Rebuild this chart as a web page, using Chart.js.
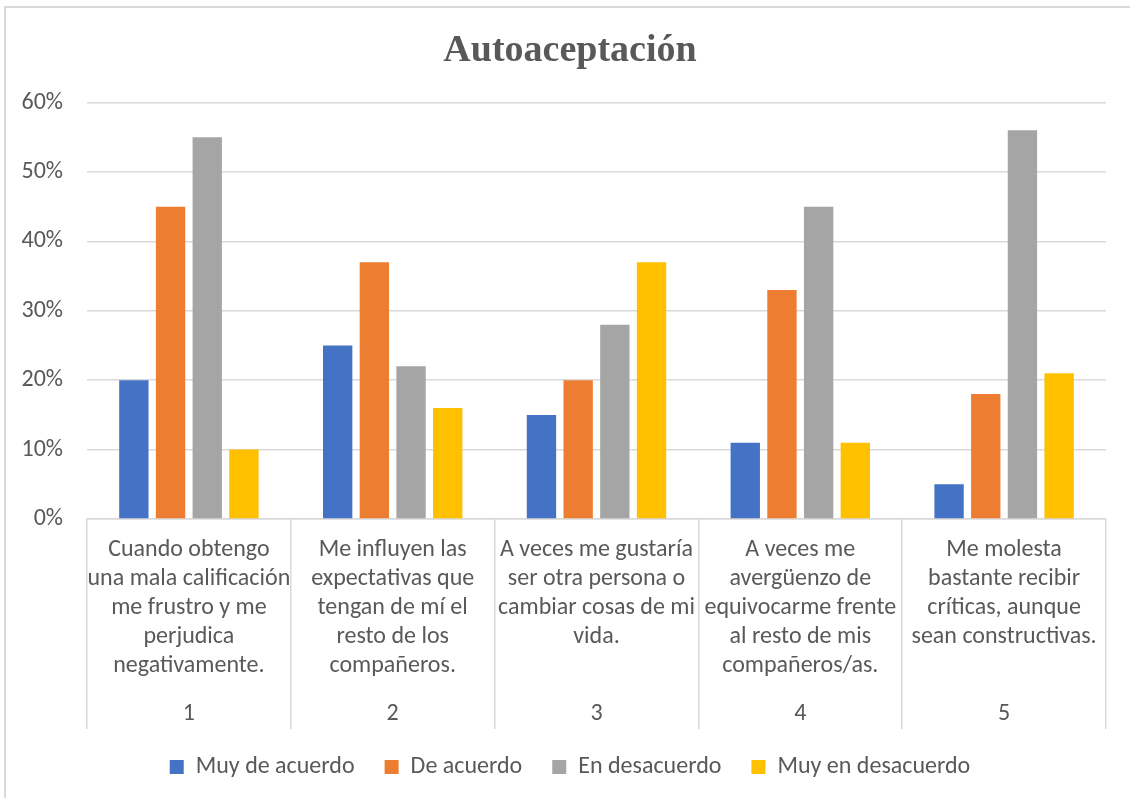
<!DOCTYPE html>
<html><head><meta charset="utf-8">
<script src="https://cdn.jsdelivr.net/npm/chart.js@4"></script>
<style>
html,body{margin:0;padding:0;background:#fff;}
#wrap{position:relative;width:1130px;height:798px;overflow:hidden;}
#frame{position:absolute;left:4px;top:6px;width:1200px;height:900px;border-top:2px solid #D9D9D9;border-left:2px solid #D9D9D9;pointer-events:none;}
canvas{display:block}
</style></head><body>
<div id="wrap"><canvas id="c" width="1130" height="798"></canvas><div id="frame"></div></div>
<script>
const chartTitle = 'Autoaceptación';
const categories = [
  ['Cuando obtengo', 'una mala calificación', 'me frustro y me', 'perjudica', 'negativamente.'],
  ['Me influyen las', 'expectativas que', 'tengan de mí el', 'resto de los', 'compañeros.'],
  ['A veces me gustaría', 'ser otra persona o', 'cambiar cosas de mi', 'vida.'],
  ['A veces me', 'avergüenzo de', 'equivocarme frente', 'al resto de mis', 'compañeros/as.'],
  ['Me molesta', 'bastante recibir', 'críticas, aunque', 'sean constructivas.']
];
const categoryNumbers = ['1', '2', '3', '4', '5'];
const seriesNames = ['Muy de acuerdo', 'De acuerdo', 'En desacuerdo', 'Muy en desacuerdo'];
const muyDeAcuerdo = [20, 25, 15, 11, 5];
const deAcuerdo = [45, 37, 20, 33, 18];
const enDesacuerdo = [55, 22, 28, 45, 56];
const muyEnDesacuerdo = [10, 16, 37, 11, 21];
const yMin = 0, yMax = 60, yStep = 10;

const colors = ['#4472C4', '#ED7D31', '#A5A5A5', '#FFC000'];
const FONT = 'Carlito, Lato, "Liberation Sans", sans-serif';
const TEXT = '#595959';
const GRID = '#D9D9D9';
const FS = 24;

const seriesValues = [muyDeAcuerdo, deAcuerdo, enDesacuerdo, muyEnDesacuerdo];

new Chart(document.getElementById('c'), {
  type: 'bar',
  data: {
    labels: categories,
    datasets: seriesValues.map((vals, i) => ({
      label: seriesNames[i],
      data: vals,
      backgroundColor: colors[i],
      borderWidth: 0,
      categoryPercentage: 0.72,
      barPercentage: 0.80
    }))
  },
  options: {
    responsive: false,
    animation: false,
    devicePixelRatio: 1,
    layout: { padding: { left: 10, right: 0, top: 0, bottom: 9 } },
    plugins: {
      title: {
        display: true,
        text: chartTitle,
        color: TEXT,
        font: { family: '"Liberation Serif", "Times New Roman", serif', size: 38, weight: 'bold', lineHeight: 1.2 },
        padding: { top: 28, bottom: 29 }
      },
      legend: {
        position: 'bottom',
        labels: {
          boxWidth: 14, boxHeight: 14,
          padding: 30,
          color: TEXT,
          font: { family: FONT, size: FS }
        }
      },
      tooltip: { enabled: false }
    },
    scales: {
      x: {
        position: 'bottom',
        offset: true,
        grid: { offset: true, drawOnChartArea: false, drawTicks: true, tickLength: 210, color: GRID, lineWidth: 1.5 },
        border: { display: true, color: GRID, width: 1.5 },
        ticks: {
          color: TEXT, font: { family: FONT, size: FS, lineHeight: '29px' },
          padding: -193.5, maxRotation: 0, minRotation: 0, autoSkip: false
        },
        afterFit: s => { s.height = 183; }
      },
      x2: {
        type: 'category',
        labels: categoryNumbers,
        position: 'bottom',
        offset: true,
        grid: { display: false, drawTicks: false },
        border: { display: false },
        ticks: { color: TEXT, font: { family: FONT, size: FS, lineHeight: '24px' }, padding: 0, maxRotation: 0, autoSkip: false },
        afterFit: s => { s.height = 23; }
      },
      y: {
        min: yMin, max: yMax,
        ticks: { stepSize: yStep, color: TEXT, font: { family: FONT, size: FS }, padding: 24, callback: v => v + '%' },
        grid: { color: GRID, lineWidth: 1.5, drawTicks: false },
        border: { display: false },
        afterFit: s => { s.width = 77; }
      },
      yR: {
        position: 'right',
        display: true,
        grid: { display: false },
        border: { display: false },
        ticks: { display: false },
        afterFit: s => { s.width = 24; }
      }
    }
  }
});
</script>
</body></html>
